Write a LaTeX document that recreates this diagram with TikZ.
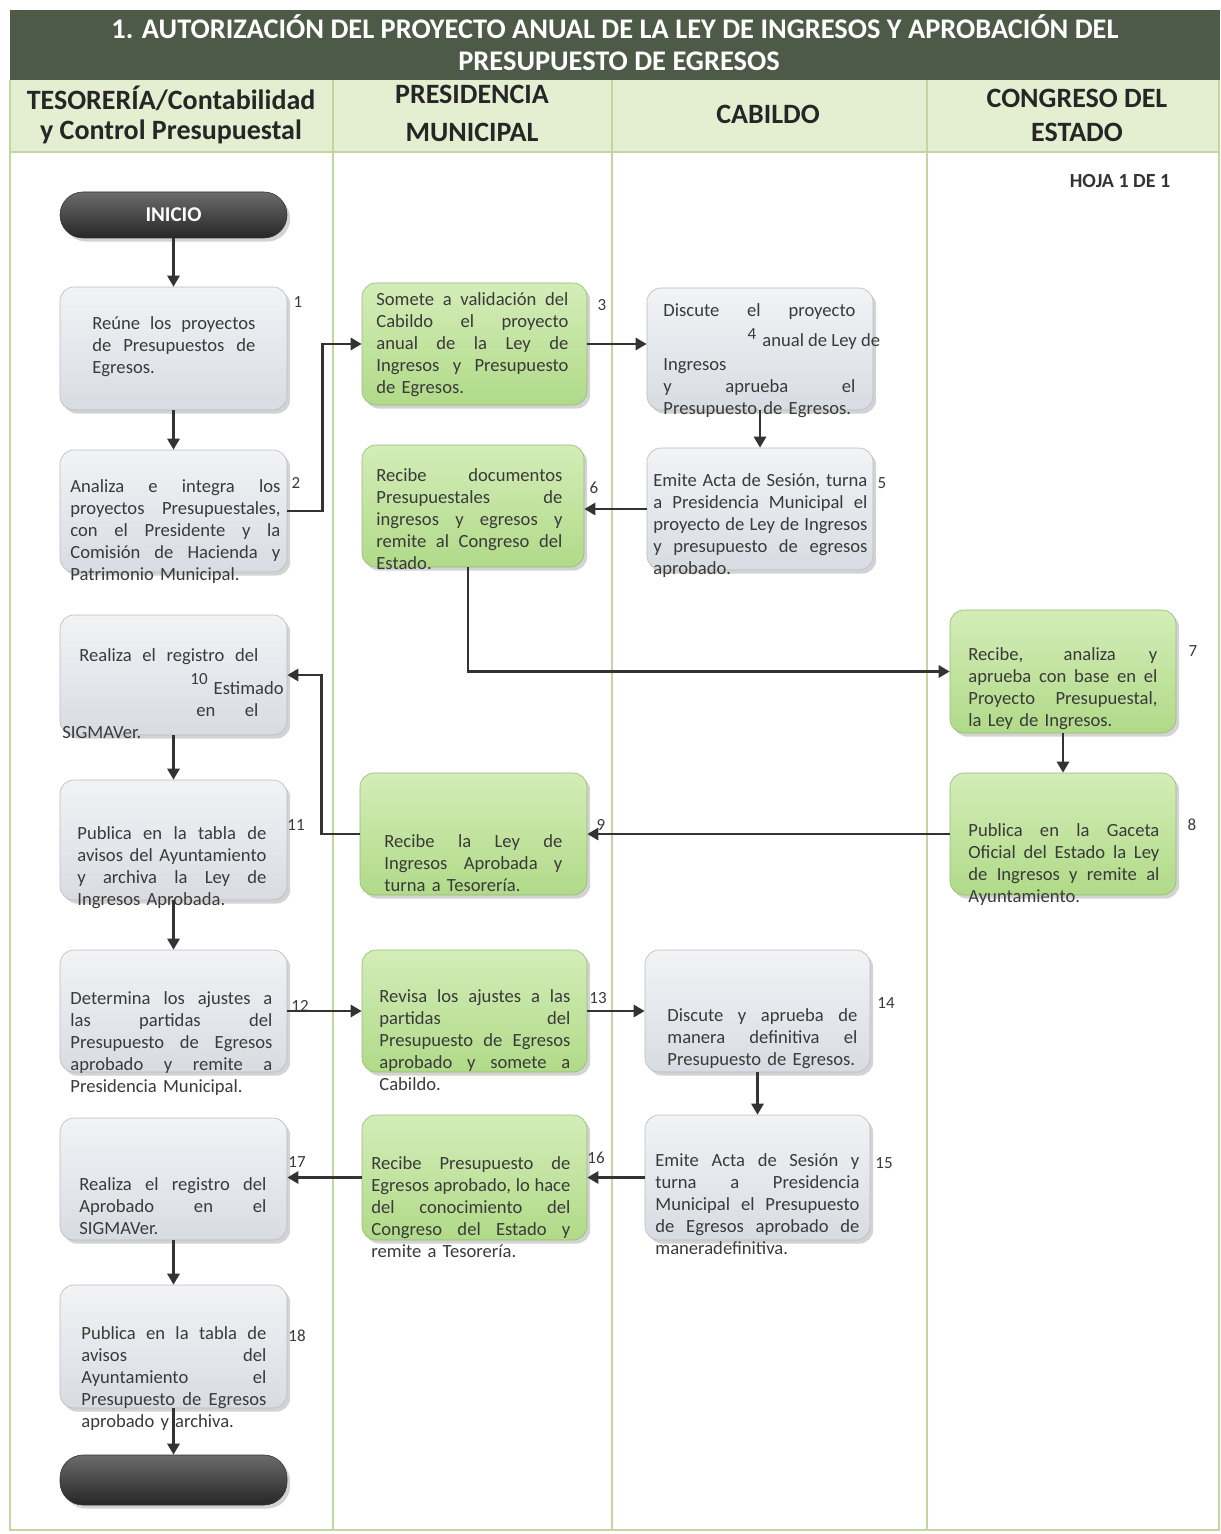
\documentclass[tikz,border=0pt]{standalone}
\usepackage{fontspec}
\setmainfont{Carlito}
\usetikzlibrary{arrows.meta,shadows,fit}

\definecolor{bandgray}{HTML}{4E5A48}
\definecolor{headgreen}{HTML}{E4EFD2}
\definecolor{lanegreen}{HTML}{C3D6A2}
\definecolor{inkgray}{HTML}{3A3A3A}
\definecolor{arrowgray}{HTML}{333333}
\definecolor{graytop}{HTML}{F1F3F5}
\definecolor{graybot}{HTML}{D8DCE2}
\definecolor{greentop}{HTML}{D4EDB8}
\definecolor{greenbot}{HTML}{B0DA88}

\hyphenpenalty=10000
\exhyphenpenalty=10000

% justified line spread over the current text width
\newlength{\jlw}
\newcommand{\jl}[1]{\leavevmode\hbox to \jlw{\spaceskip=\fontdimen2\font plus 1fil\relax #1}}

\begin{document}
\begin{tikzpicture}[x=0.5pt,y=-0.5pt,
  laneline/.style={draw=lanegreen, line width=0.8pt},
  shade/.style={drop shadow={opacity=0.35, shadow xshift=1.6pt, shadow yshift=-1.8pt}},
  graybox/.style={rounded corners=7pt, inner sep=0pt, top color=graytop, bottom color=graybot, draw=graybot!85!black, line width=0.3pt, shade},
  greenbox/.style={rounded corners=7pt, inner sep=0pt, top color=greentop, bottom color=greenbot, draw=greenbot!85!black, line width=0.3pt, shade},
  term/.style={rounded corners=11.5pt, inner sep=0pt, minimum width=113.5pt, top color=black!58, bottom color=black!85, draw=black!80, line width=0.3pt, shade,
    text=white, font=\fontsize{10.5}{12}\selectfont\bfseries},
  txt/.style={anchor=base west, inner sep=0pt, align=left, text=inkgray, font=\fontsize{9.3}{11}\selectfont},
  tw/.code={\pgfkeysalso{text width=#1}\global\jlw=#1\relax},
  num/.style={inner sep=0pt, text=inkgray, font=\fontsize{8.5}{10}\selectfont},
  headtxt/.style={inner sep=0pt, text=black!85, font=\fontsize{14}{16}\selectfont\bfseries},
  titletxt/.style={inner sep=0pt, text=white, font=\fontsize{14.2}{16}\selectfont\bfseries},
  arr/.style={draw=arrowgray, line width=1.4pt, -{Triangle[length=5.5pt,width=6pt]}},
]
\useasboundingbox (0,0) rectangle (1220,1534);

% ---------- frame, title band and lane headers ----------
\fill[bandgray] (10,10) rectangle (1220,80);
\fill[headgreen] (10,80) rectangle (1220,152);
\draw[laneline] (10,80) -- (10,1530) -- (1219,1530) -- (1219,80);
\draw[laneline] (10,152) -- (1220,152);
\foreach \lx in {333,612,927} \draw[laneline] (\lx,80) -- (\lx,1530);

\node[titletxt] (title1) at (615,27) {1. AUTORIZACIÓN DEL PROYECTO ANUAL DE LA LEY DE INGRESOS Y APROBACIÓN DEL};
\node[titletxt] (title2) at (619,61) {PRESUPUESTO DE EGRESOS};

\node[headtxt] (h1a) at (171,98) {TESORERÍA/Contabilidad};
\node[headtxt] (h1b) at (171,132) {y Control Presupuestal};
\node[headtxt] (h2a) at (472,94) {PRESIDENCIA};
\node[headtxt] (h2b) at (472,132) {MUNICIPAL};
\node[headtxt] (h3) at (768,114) {CABILDO};
\node[headtxt] (h4a) at (1077,98) {CONGRESO DEL};
\node[headtxt] (h4b) at (1077,132) {ESTADO};

\node[inner sep=0pt, text=black!80, font=\fontsize{10}{12}\selectfont\bfseries] (hoja) at (1120,181) {HOJA 1 DE 1};

% ---------- process boxes ----------
\node[term, minimum height=23pt] (start) at (173.5,215) {INICIO};
\node[graybox, fit={(60,287) (287,410)}] (b1) {};
\node[graybox, fit={(60,450) (287,572)}] (b2) {};
\node[greenbox, fit={(362,283) (587,405)}] (b3) {};
\node[graybox, fit={(647,288) (873,410)}] (b4) {};
\node[graybox, fit={(647,448) (873,570)}] (b5) {};
\node[greenbox, fit={(362,445) (584,567)}] (b6) {};
\node[greenbox, fit={(950,610) (1176,733)}] (b7) {};
\node[greenbox, fit={(950,773) (1176,895)}] (b8) {};
\node[greenbox, fit={(360,773) (587,895)}] (b9) {};
\node[graybox, fit={(60,615) (287,735)}] (b10) {};
\node[graybox, fit={(60,780) (287,900)}] (b11) {};
\node[graybox, fit={(60,950) (287,1072)}] (b12) {};
\node[greenbox, fit={(362,950) (587,1072)}] (b13) {};
\node[graybox, fit={(645,950) (870,1072)}] (b14) {};
\node[graybox, fit={(645,1115) (870,1240)}] (b15) {};
\node[greenbox, fit={(362,1115) (587,1240)}] (b16) {};
\node[graybox, fit={(60,1118) (287,1240)}] (b17) {};
\node[graybox, fit={(60,1285) (287,1408)}] (b18) {};
\node[term, minimum height=25pt] (finish) at (173.5,1480) {};

% ---------- box texts ----------
\node[txt, tw=81.5pt] (t1) at (92,330) {\jl{Reúne los proyectos}\\\jl{de Presupuestos de}\\Egresos.};
\node[txt, tw=105pt] (t2) at (70,492) {\jl{Analiza e integra los}\\\jl{proyectos Presupuestales,}\\\jl{con el Presidente y la}\\\jl{Comisión de Hacienda y}\\Patrimonio Municipal.};
\node[txt, tw=96pt] (t3) at (376,306) {\jl{Somete a validación del}\\\jl{Cabildo el proyecto}\\\jl{anual de la Ley de}\\\jl{Ingresos y Presupuesto}\\de Egresos.};
\node[txt, tw=96pt] (t4a) at (663,317) {\jl{Discute el proyecto}};
\node[txt] (t4b) at (762,347) {anual de Ley de};
\node[txt, tw=96pt] (t4c) at (663,371) {Ingresos\\\jl{y aprueba el}\\Presupuesto de Egresos.};
\node[txt, tw=107pt] (t5) at (653,486) {\jl{Emite Acta de Sesión, turna}\\\jl{a Presidencia Municipal el}\\\jl{proyecto de Ley de Ingresos}\\\jl{y presupuesto de egresos}\\aprobado.};
\node[txt, tw=93pt] (t6) at (376,481) {\jl{Recibe documentos}\\\jl{Presupuestales de}\\\jl{ingresos y egresos y}\\\jl{remite al Congreso del}\\Estado.};
\node[txt, tw=94.5pt] (t7) at (968,660) {\jl{Recibe, analiza y}\\\jl{aprueba con base en el}\\\jl{Proyecto Presupuestal,}\\la Ley de Ingresos.};
\node[txt, tw=95.5pt] (t8) at (968,836) {\jl{Publica en la Gaceta}\\\jl{Oficial del Estado la Ley}\\\jl{de Ingresos y remite al}\\Ayuntamiento.};
\node[txt, tw=89pt] (t9) at (384,847) {\jl{Recibe la Ley de}\\\jl{Ingresos Aprobada y}\\turna a Tesorería.};
\node[txt, tw=89.5pt] (t10a) at (79,661) {\jl{Realiza el registro del}};
\node[txt, anchor=base east] (t10b) at (284,694) {Estimado};
\node[txt, tw=31pt] (t10c) at (196,716) {\jl{en el}};
\node[txt] (t10d) at (62,738) {SIGMAVer.};
\node[txt, tw=94.5pt] (t11) at (77,839) {\jl{Publica en la tabla de}\\\jl{avisos del Ayuntamiento}\\\jl{y archiva la Ley de}\\Ingresos Aprobada.};
\node[txt, tw=101pt] (t12) at (70,1004) {\jl{Determina los ajustes a}\\\jl{las partidas del}\\\jl{Presupuesto de Egresos}\\\jl{aprobado y remite a}\\Presidencia Municipal.};
\node[txt, tw=95.5pt] (t13) at (379,1002) {\jl{Revisa los ajustes a las}\\\jl{partidas del}\\\jl{Presupuesto de Egresos}\\\jl{aprobado y somete a}\\Cabildo.};
\node[txt, tw=95pt] (t14) at (667,1021) {\jl{Discute y aprueba de}\\\jl{manera definitiva el}\\Presupuesto de Egresos.};
\node[txt, tw=102pt] (t15) at (655,1166) {\jl{Emite Acta de Sesión y}\\\jl{turna a Presidencia}\\\jl{Municipal el Presupuesto}\\\jl{de Egresos aprobado de}\\maneradefinitiva.};
\node[txt, tw=99.5pt] (t16) at (371,1169) {\jl{Recibe Presupuesto de}\\\jl{Egresos aprobado, lo hace}\\\jl{del conocimiento del}\\\jl{Congreso del Estado y}\\remite a Tesorería.};
\node[txt, tw=93.5pt] (t17) at (79,1190) {\jl{Realiza el registro del}\\\jl{Aprobado en el}\\SIGMAVer.};
\node[txt, tw=92.5pt] (t18) at (81,1339) {\jl{Publica en la tabla de}\\\jl{avisos del}\\\jl{Ayuntamiento el}\\\jl{Presupuesto de Egresos}\\aprobado y archiva.};

% ---------- step numbers ----------
\node[num] (n1) at (298,302) {1};
\node[num] (n2) at (296,483) {2};
\node[num] (n3) at (602,305) {3};
\node[num] (n4) at (752,334) {4};
\node[num] (n5) at (882,483) {5};
\node[num] (n6) at (594,488) {6};
\node[num] (n7) at (1193,651) {7};
\node[num] (n8) at (1192,825) {8};
\node[num] (n9) at (601,825) {9};
\node[num] (n10) at (199,679) {10};
\node[num] (n11) at (296,825) {11};
\node[num] (n12) at (300,1006) {12};
\node[num] (n13) at (598,998) {13};
\node[num] (n14) at (886,1003) {14};
\node[num] (n15) at (884,1163) {15};
\node[num] (n16) at (596,1158) {16};
\node[num] (n17) at (297,1162) {17};
\node[num] (n18) at (297,1336) {18};

% ---------- connectors ----------
\draw[arr] (start) -- (b1);
\draw[arr] (b1) -- (b2);
\draw[arr] (b2.east) -- ++(35,0) |- (b3.west);
\draw[arr] (b3.east) -- (b3.east -| b4.west);
\draw[arr] (b4) -- (b5);
\draw[arr] (b5.west) -- (b5.west -| b6.east);
\draw[arr] (b6.south -| 468,0) |- (b7.west);
\draw[arr] (b7) -- (b8);
\draw[arr] (b8) -- (b9);
\draw[arr] (b9.west) -- ++(-38,0) |- (b10.east);
\draw[arr] (b10) -- (b11);
\draw[arr] (b11) -- (b12);
\draw[arr] (b12) -- (b13);
\draw[arr] (b13) -- (b14);
\draw[arr] (b14) -- (b15);
\draw[arr] (b15) -- (b16);
\draw[arr] (b16.west) -- (b16.west -| b17.east);
\draw[arr] (b17) -- (b18);
\draw[arr] (b18) -- (finish);
\end{tikzpicture}
\end{document}
